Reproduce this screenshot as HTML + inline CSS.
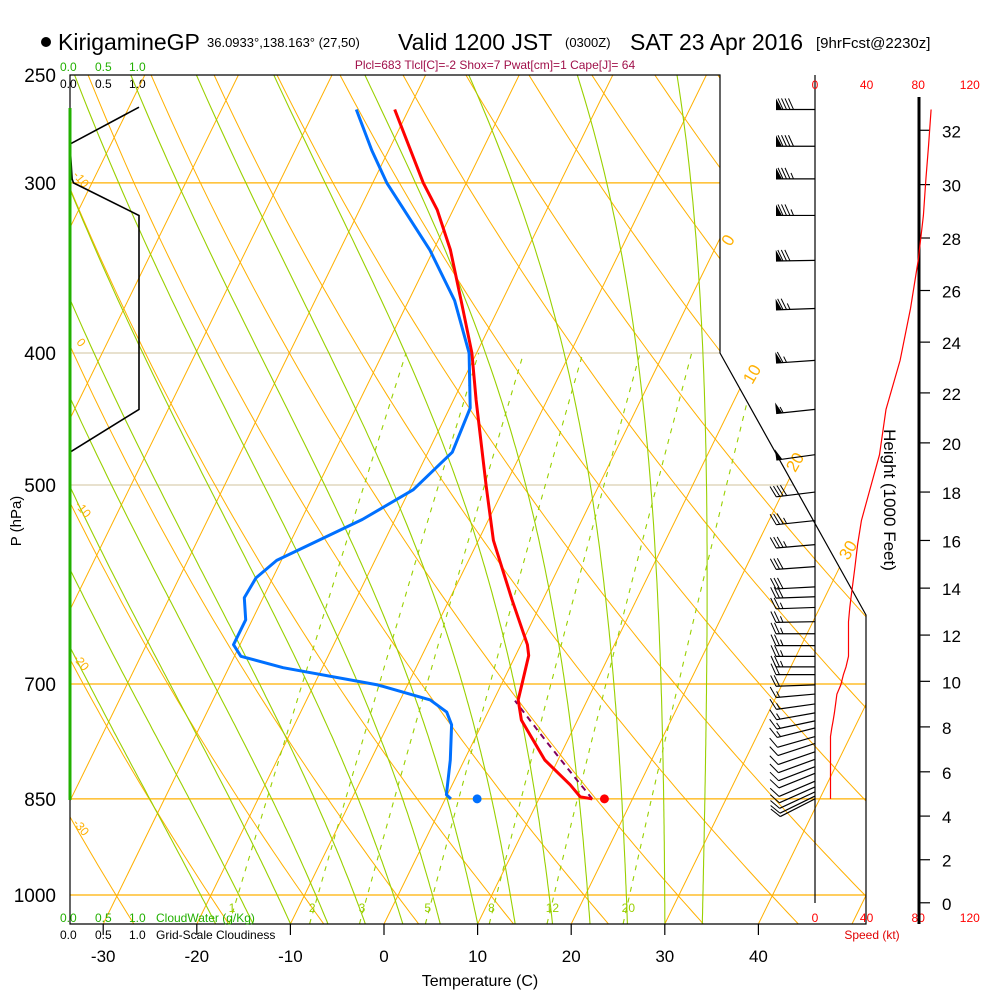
<!DOCTYPE html>
<html><head><meta charset="utf-8"><style>
html,body{margin:0;padding:0;background:#fff;}
svg{display:block;font-family:"Liberation Sans",Arial,sans-serif;}
</style></head><body>
<svg id="chart" width="1000" height="1000" viewBox="0 0 1000 1000" xmlns="http://www.w3.org/2000/svg">
<defs><clipPath id="plotclip"><polygon points="70,75 720,75 720,353 866,615 866,924 70,924"/></clipPath></defs>
<g>
<circle cx="46" cy="42" r="5" fill="#000"/>
<text x="58" y="50" font-size="23">KirigamineGP</text>
<text x="207" y="47" font-size="13">36.0933°,138.163° (27,50)</text>
<text x="398" y="50" font-size="23">Valid 1200 JST</text>
<text x="565" y="47" font-size="13">(0300Z)</text>
<text x="630" y="50" font-size="23">SAT 23 Apr 2016</text>
<text x="816" y="48" font-size="15">[9hrFcst@2230z]</text>
</g>
<text x="495" y="69" font-size="12" fill="#a0104a" text-anchor="middle">Plcl=683 Tlcl[C]=-2 Shox=7 Pwat[cm]=1 Cape[J]= 64</text>
<g font-size="12">
<text x="60" y="71" fill="#22b000">0.0</text><text x="95" y="71" fill="#22b000">0.5</text><text x="129" y="71" fill="#22b000">1.0</text>
<text x="60" y="88" fill="#000">0.0</text><text x="95" y="88" fill="#000">0.5</text><text x="129" y="88" fill="#000">1.0</text>
</g>
<g id="plot" clip-path="url(#plotclip)"></g>
<g id="over"></g>
<polygon points="70,75 720,75 720,353 866,615 866,924 70,924" fill="none" stroke="#000" stroke-width="1.2"/>
<line x1="70" y1="108" x2="70" y2="800" stroke="#22b000" stroke-width="3"/>
<g id="axes"></g>
<text font-size="15" transform="translate(21,521) rotate(-90)" text-anchor="middle">P (hPa)</text>
<text x="480" y="986" font-size="16" text-anchor="middle">Temperature (C)</text>
<text font-size="17" transform="translate(884,500) rotate(90)" text-anchor="middle">Height (1000 Feet)</text>
<g font-size="12">
<text x="60" y="922" fill="#22b000">0.0</text><text x="95" y="922" fill="#22b000">0.5</text><text x="129" y="922" fill="#22b000">1.0</text><text x="156" y="922" fill="#22b000">CloudWater (g/Kg)</text>
<text x="60" y="939" fill="#000">0.0</text><text x="95" y="939" fill="#000">0.5</text><text x="129" y="939" fill="#000">1.0</text><text x="156" y="939" fill="#000">Grid-Scale Cloudiness</text>
</g>
<text x="872" y="939" font-size="12" fill="#e00000" text-anchor="middle">Speed (kt)</text>
<script>
// ---- data ----
const tempP = [265,300,314,336,366,400,433,501,549,607,655,667,701,719,744,796,830,847,850];
const tempT = [-41.5,-34.6,-31.7,-28.2,-24.4,-20.5,-17.6,-12.0,-8.4,-3.3,0.7,1.4,2.2,2.6,4.0,8.6,12.6,14.3,15.7];
const dewP = [265,284,300,336,366,400,439,473,504,530,568,585,605,628,655,668,681,701,719,734,750,796,844,850];
const dewT = [-45.6,-41.8,-38.5,-30.4,-25.1,-20.8,-17.8,-17.4,-19.6,-23.5,-30.5,-31.8,-32.0,-30.7,-30.7,-29.3,-24.2,-13.2,-6.8,-4.4,-3.2,-1.5,-0.1,0.6];
const sfcP = 850, sfcT = 17.0, sfcTd = 3.4, lclP = 720;
const barbP = [265,282,298,317,342,371,405,440,475,506,531,553,574,594,604,615,630,643,656,668,680,689,701,712,724,735,745,754,765,774,785,795,805,814,825,833,840,846,850];
const barbSpd = [90,88,86,84,80,74,66,55,50,42,36,33,31,29,28,27,26,26,26,26,24,22,20,17,16,15,14,13,12,12,12,12,12,12,12,12,12,12,12];
const barbDir = [270,270,270,270,269,268,266,264,262,263,264,265,266,267,268,268,269,270,270,270,270,270,268,265,262,260,258,256,254,252,251,250,249,248,247,246,245,244,243];
const cloudP = [264,281,298,300,317,440,473];
const cloudFrac = [1.0,0.0,0.03,0.05,1.0,1.0,0.0];
const isobars = [300,400,500,700,850,1000];
const pressLabels = [250,300,400,500,700,850,1000];
const tempTicks = [-30,-20,-10,0,10,20,30,40];
const mixRatios = [1,2,3,5,8,12,20];
const moistStartT = [-18,-14,-10,-6,-2,2,6,10,14,18,22,26,30,34];
const heightTicks = [0,2,4,6,8,10,12,14,16,18,20,22,24,26,28,30,32];
const speedTicks = [0,40,80,120];

// ---- transforms ----
const NS = "http://www.w3.org/2000/svg";
function yP(p){return 895+591.5*Math.log(p/1000);}
function xT(T,p){return 384+9.36*T+0.49*(924-yP(p));}
function xS(s){return 815+1.29*s;}
function mk(tag, attrs, parent){const e=document.createElementNS(NS,tag);for(const k in attrs)e.setAttribute(k,attrs[k]);parent.appendChild(e);return e;}
const plot=document.getElementById('plot'), over=document.getElementById('over'), axes=document.getElementById('axes');
function poly(pts){return pts.map(q=>q[0].toFixed(1)+','+q[1].toFixed(1)).join(' ');}

isobars.forEach(p=>{
  const l=mk('line',{x1:70,x2:870,y1:yP(p),y2:yP(p),stroke:(p===400||p===500)?'#d9cfb0':'#ffb000','stroke-width':1.3},plot);
  
  
});
for(let T=-130;T<=50;T+=10){
  const l=mk('line',{x1:xT(T,1060),y1:yP(1060),x2:xT(T,240),y2:yP(240),stroke:'#ffb000','stroke-width':1},plot);
  
  
}
for(let th=213;th<=503;th+=10){
  const pts=[];for(let p=1060;p>=240;p-=10){pts.push([xT(th*Math.pow(p/1000,0.286)-273.15,p),yP(p)]);}
  const l=mk('polyline',{points:poly(pts),fill:'none',stroke:'#ffb000','stroke-width':1},plot);
  
  
}
function es(T){return 6.112*Math.exp(17.67*T/(T+243.5));}
moistStartT.forEach(T0=>{
  let T=T0+273.15, p=1050; const pts=[[xT(T0,p),yP(p)]];
  while(p>250){
    const Tc=T-273.15, e=es(Tc), rs=0.622*e/(p-e);
    const dTdp=(287*T+2.5e6*rs)/(p*(1005+2.5e6*2.5e6*rs*0.622/(287*T*T)));
    T-=dTdp*5; p-=5; pts.push([xT(T-273.15,p),yP(p)]);
  }
  const l=mk('polyline',{points:poly(pts),fill:'none',stroke:'#99d000','stroke-width':1.1},plot);
  
  
});
function tdFromW(w,p){const e=w*p/(622+w);const a=Math.log(e/6.112);return 243.5*a/(17.67-a);}
mixRatios.forEach(w=>{
  const pts=[];for(let p=1050;p>=400;p-=10)pts.push([xT(tdFromW(w,p),p),yP(p)]);
  const l=mk('polyline',{points:poly(pts),fill:'none',stroke:'#99d000','stroke-width':1.1,'stroke-dasharray':'5,6'},plot);
  
  
  const t=mk('text',{x:xT(tdFromW(w,1030),1030)-4,y:912,'font-size':12,fill:'#99d000'},plot);
  t.textContent=w;
  
  
});
[[0,733,243],[10,757,377],[20,800,465],[30,853,553]].forEach(a=>{
  const t=mk('text',{'font-size':17,fill:'#ffb000',transform:`translate(${a[1]},${a[2]}) rotate(-60)`,'text-anchor':'middle'},over);
  t.textContent=a[0];
  
  
});
[['-10',78,182],['0',78,345],['-10',80,512],['-20',78,665],['-30',78,830]].forEach(a=>{
  const t=mk('text',{'font-size':12,fill:'#ffb000',transform:`translate(${a[1]},${a[2]}) rotate(50)`,'text-anchor':'middle'},over);
  t.textContent=a[0];
  
  
});
{const pts=cloudP.map((p,i)=>[70+cloudFrac[i]*69,yP(p)]);
 const l=mk('polyline',{points:poly(pts),fill:'none',stroke:'#000','stroke-width':1.6},over);
 
 }
{const th=(sfcT-1.3+273.15)/Math.pow(sfcP/1000,0.286);const pts=[];
 for(let p=sfcP;p>=lclP;p-=5)pts.push([xT(th*Math.pow(p/1000,0.286)-273.15,p),yP(p)]);
 const l=mk('polyline',{points:poly(pts),fill:'none',stroke:'#800060','stroke-width':2,'stroke-dasharray':'6,5'},over);
 
 }
{const l=mk('polyline',{points:poly(dewP.map((p,i)=>[xT(dewT[i],p),yP(p)])),fill:'none',stroke:'#0070ff','stroke-width':3,'stroke-linejoin':'round'},over);
 
 }
{const l=mk('polyline',{points:poly(tempP.map((p,i)=>[xT(tempT[i],p),yP(p)])),fill:'none',stroke:'#ff0000','stroke-width':3,'stroke-linejoin':'round'},over);
 
 }
{const c=mk('circle',{cx:xT(sfcT,sfcP),cy:yP(sfcP),r:4.5,fill:'#ff0000'},over);
 
 
 const d=mk('circle',{cx:xT(sfcTd,sfcP),cy:yP(sfcP),r:4.5,fill:'#0070ff'},over);
 
 }
pressLabels.forEach(p=>{
  const t=mk('text',{x:56,y:yP(p)+7,'font-size':19,'text-anchor':'end'},axes);
  t.textContent=p;
  
  
});
tempTicks.forEach(T=>{
  const x=384+9.36*T;
  const l=mk('line',{x1:x,x2:x,y1:924,y2:935,stroke:'#000','stroke-width':1.2},axes);
  
  
  const t=mk('text',{x:x,y:962,'font-size':17,'text-anchor':'middle'},axes);
  t.textContent=T;
  
  
});
{const l=mk('line',{x1:815,x2:815,y1:75,y2:903,stroke:'#000','stroke-width':1.2},axes);
 
 }
speedTicks.forEach(s=>{
  [89,922].forEach(yy=>{
    const t=mk('text',{x:xS(s),y:yy,'font-size':12,fill:'#ff0000','text-anchor':'middle'},axes);
    t.textContent=s;
    
    
  });
});
{const l=mk('line',{x1:919,x2:919,y1:97,y2:924,stroke:'#000','stroke-width':3},axes);
 
 }
heightTicks.forEach(h=>{
  const p=1013.25*Math.pow(1-0.0065*h*304.8/288.15,5.2559), y=yP(p);
  const l=mk('line',{x1:919,x2:930,y1:y,y2:y,stroke:'#000','stroke-width':1.2},axes);
  
  
  const t=mk('text',{x:942,y:y+7,'font-size':17},axes);
  t.textContent=h;
  
  
});
{const l=mk('polyline',{points:poly(barbP.map((p,i)=>[xS(barbSpd[i]),yP(p)])),fill:'none',stroke:'#ff0000','stroke-width':1.2},axes);
 
 }
barbP.forEach((p,i)=>{
  const g=mk('g',{},axes);
  
  
  const d=barbDir[i]*Math.PI/180, ux=Math.sin(d), uy=-Math.cos(d), px=-uy, py=ux;
  const x0=815, y0=yP(p), L=39, tx=x0+ux*L, ty=y0+uy*L;
  mk('line',{x1:x0,y1:y0,x2:tx,y2:ty,stroke:'#000','stroke-width':1.2},g);
  let s=Math.round(barbSpd[i]/5)*5, pos=0;
  while(s>=50){
    const bx=tx-ux*pos, by=ty-uy*pos;
    mk('polygon',{points:poly([[bx,by],[bx-ux*6,by-uy*6],[bx+px*11,by+py*11]]),fill:'#000'},g);
    pos+=7; s-=50;
  }
  while(s>=10){
    const bx=tx-ux*pos, by=ty-uy*pos;
    mk('line',{x1:bx,y1:by,x2:bx+px*11+ux*5,y2:by+py*11+uy*5,stroke:'#000','stroke-width':1},g);
    pos+=3.5; s-=10;
  }
  if(s>=5){
    const bx=tx-ux*pos, by=ty-uy*pos;
    mk('line',{x1:bx,y1:by,x2:bx+px*6+ux*2.5,y2:by+py*6+uy*2.5,stroke:'#000','stroke-width':1},g);
  }
});
</script>
</svg>
</body></html>
